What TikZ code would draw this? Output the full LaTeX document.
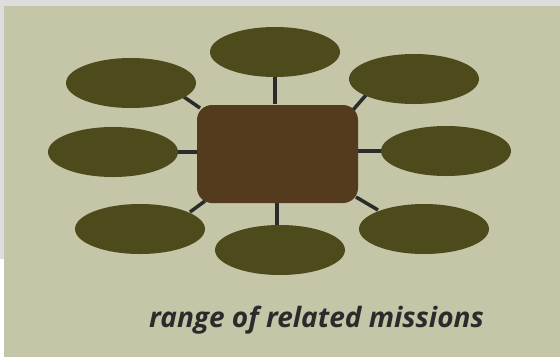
\documentclass[tikz,border=0pt]{standalone}
\usepackage{fontspec}
\setmainfont{Open Sans}
\usetikzlibrary{shapes.geometric}
\definecolor{bgray}{HTML}{DDDDDD}
\definecolor{khaki}{HTML}{C5C5A8}
\definecolor{olive}{HTML}{4D4A1C}
\definecolor{brownbox}{HTML}{553B1E}
\definecolor{conn}{HTML}{2B2B2B}
\tikzset{
  bub/.style={ellipse, fill=olive, minimum width=130pt, minimum height=50pt, inner sep=0pt},
  hub/.style={rectangle, rounded corners=15pt, fill=brownbox, minimum width=161pt, minimum height=98pt, inner sep=0pt},
  link/.style={draw=conn, line width=3.5pt}
}
\begin{document}
\begin{tikzpicture}[x=1pt,y=-1pt]
\useasboundingbox (0,0) rectangle (560,357);
\fill[white] (0,0) rectangle (560,357);
\fill[bgray] (0,0) rectangle (560,259);
\fill[khaki] (4,6) rectangle (560,357);
\coordinate (t1) at (275,77); \coordinate (t2) at (275,104);
\coordinate (ul1) at (184,97); \coordinate (ul2) at (200,108);
\coordinate (l1) at (176,152); \coordinate (l2) at (198,152);
\coordinate (ur1) at (366,95); \coordinate (ur2) at (353,110);
\coordinate (r1) at (357,151); \coordinate (r2) at (382,151);
\coordinate (ll1) at (190,212); \coordinate (ll2) at (205,201);
\coordinate (b1) at (277,203); \coordinate (b2) at (277,226);
\coordinate (lr1) at (356,197); \coordinate (lr2) at (378,210);
\draw[link] (t1) -- (t2);
\draw[link] (ul1) -- (ul2);
\draw[link] (l1) -- (l2);
\draw[link] (ur1) -- (ur2);
\draw[link] (r1) -- (r2);
\draw[link] (ll1) -- (ll2);
\draw[link] (b1) -- (b2);
\draw[link] (lr1) -- (lr2);
\node[hub] (c) at (277.5,154) {};
\node[bub] (t) at (275,52) {};
\node[bub] (ul) at (131,83) {};
\node[bub] (l) at (113,152) {};
\node[bub] (ur) at (414,79) {};
\node[bub] (r) at (446,151) {};
\node[bub] (ll) at (140,229) {};
\node[bub] (b) at (280,250) {};
\node[bub] (lr) at (424,229) {};
\node[anchor=base, text=conn, font=\fontsize{28}{32}\selectfont\bfseries\itshape, inner sep=0pt] (cap) at (316.5,327) {range of related missions};
\end{tikzpicture}
\end{document}
